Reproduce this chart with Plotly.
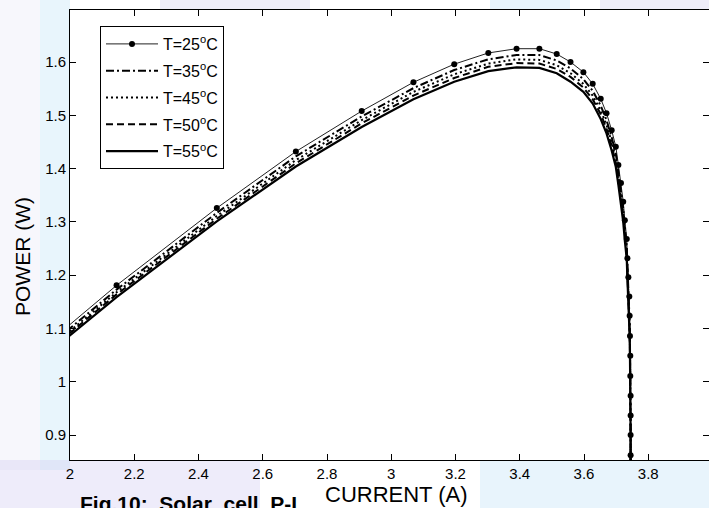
import plotly.graph_objects as go

# ---- data ----
current = [1.760, 2.145, 2.457, 2.703, 2.908, 3.069, 3.196, 3.302, 3.390, 3.461,
           3.515, 3.558, 3.598, 3.627, 3.652, 3.670, 3.686, 3.699, 3.707, 3.715,
           3.722, 3.727, 3.733, 3.735, 3.738, 3.741, 3.742, 3.743, 3.744, 3.744,
           3.745, 3.745, 3.745, 3.745, 3.745]

p25 = [0.986, 1.181, 1.326, 1.432, 1.508, 1.562, 1.596, 1.617, 1.625, 1.625,
       1.615, 1.600, 1.581, 1.559, 1.531, 1.504, 1.472, 1.441, 1.407, 1.373,
       1.338, 1.303, 1.268, 1.232, 1.196, 1.160, 1.124, 1.086, 1.049, 1.011,
       0.974, 0.937, 0.900, 0.862, 0.824]
p35 = [0.980, 1.173, 1.317, 1.423, 1.498, 1.551, 1.585, 1.605, 1.613, 1.613,
       1.603, 1.588, 1.568, 1.546, 1.518, 1.491, 1.459, 1.428, 1.394, 1.360,
       1.325, 1.290, 1.255, 1.219, 1.183, 1.147, 1.111, 1.073, 1.036, 0.998,
       0.961, 0.924, 0.887, 0.849, 0.811]
p45 = [0.975, 1.168, 1.311, 1.416, 1.491, 1.544, 1.577, 1.597, 1.605, 1.604,
       1.594, 1.579, 1.559, 1.537, 1.509, 1.482, 1.450, 1.419, 1.385, 1.351,
       1.316, 1.281, 1.246, 1.210, 1.174, 1.138, 1.102, 1.064, 1.027, 0.989,
       0.952, 0.915, 0.878, 0.840, 0.802]
p50 = [0.972, 1.164, 1.306, 1.410, 1.485, 1.537, 1.570, 1.591, 1.598, 1.597,
       1.587, 1.572, 1.552, 1.530, 1.502, 1.475, 1.443, 1.411, 1.377, 1.343,
       1.308, 1.273, 1.238, 1.202, 1.166, 1.130, 1.094, 1.056, 1.019, 0.981,
       0.944, 0.907, 0.870, 0.832, 0.794]
p55 = [0.968, 1.159, 1.301, 1.404, 1.478, 1.530, 1.563, 1.583, 1.590, 1.589,
       1.579, 1.563, 1.544, 1.522, 1.493, 1.466, 1.434, 1.403, 1.369, 1.335,
       1.300, 1.265, 1.230, 1.194, 1.158, 1.122, 1.086, 1.048, 1.010, 0.972,
       0.935, 0.898, 0.861, 0.823, 0.785]

series_names = ["T=25<sup>o</sup>C", "T=35<sup>o</sup>C", "T=45<sup>o</sup>C",
                "T=50<sup>o</sup>C", "T=55<sup>o</sup>C"]
x_ticks = [2, 2.2, 2.4, 2.6, 2.8, 3, 3.2, 3.4, 3.6, 3.8]
x_tick_text = ["2", "2.2", "2.4", "2.6", "2.8", "3", "3.2", "3.4", "3.6", "3.8"]
y_ticks = [0.9, 1.0, 1.1, 1.2, 1.3, 1.4, 1.5, 1.6]
y_tick_text = ["0.9", "1", "1.1", "1.2", "1.3", "1.4", "1.5", "1.6"]

FONT = "Liberation Sans, Arial, sans-serif"

fig = go.Figure()
fig.add_trace(go.Scatter(x=current, y=p25, mode="lines+markers", name=series_names[0],
                         legendgroup="g0",
                         line=dict(color="#222222", width=1),
                         marker=dict(color="black", size=6, symbol="circle")))
styles = [("8px,3px,2px,3px", 2), ("2px,3px", 2), ("7px,4px", 2), ("solid", 2.2)]
for i, (name, pv, (dash, w)) in enumerate(zip(series_names[1:], [p35, p45, p50, p55], styles)):
    fig.add_trace(go.Scatter(x=current, y=pv, mode="lines", name=name,
                             legendgroup="g%d" % (i + 1),
                             line=dict(color="black", width=w, dash=dash)))

W, H = 709, 508
L, R, T, B = 70, 0, 10, 48
pw, ph = W - L - R, H - T - B

def px_x(p):
    return (p - L) / pw

def px_y(p):
    return (H - B - p) / ph

# faint watermark-like background tints outside the plot area
tints = [
    (40, 0, 70, 470, "rgba(190,225,247,0.35)"),
    (0, 0, 40, 470, "rgba(228,228,246,0.30)"),
    (0, 460, 260, 508, "rgba(212,208,242,0.40)"),
    (480, 460, 709, 508, "rgba(198,228,248,0.40)"),
    (160, 0, 310, 10, "rgba(215,210,240,0.40)"),
    (490, 0, 570, 10, "rgba(195,228,248,0.40)"),
    (600, 0, 709, 10, "rgba(215,210,240,0.40)"),
]
for x0, y0, x1, y1, c in tints:
    fig.add_shape(type="rect", xref="paper", yref="paper",
                  x0=px_x(x0), x1=px_x(x1), y0=px_y(y1), y1=px_y(y0),
                  fillcolor=c, line=dict(width=0), layer="below")

axis_common = dict(showline=True, linecolor="black", linewidth=1, mirror="ticks",
                   ticks="inside", ticklen=6, tickcolor="black", tickwidth=1,
                   showgrid=False, zeroline=False,
                   tickfont=dict(family=FONT, size=15, color="black"))

fig.update_layout(
    width=W, height=H,
    margin=dict(l=L, r=R, t=T, b=B, pad=0),
    paper_bgcolor="white", plot_bgcolor="white",
    font=dict(family=FONT, color="black"),
    xaxis=dict(range=[2, 3.989], tickvals=x_ticks, ticktext=x_tick_text, **axis_common),
    yaxis=dict(range=[0.8533, 1.6976], tickvals=y_ticks, ticktext=y_tick_text, **axis_common),
    legend=dict(x=px_x(100), y=px_y(26), xanchor="left", yanchor="top",
                bgcolor="white", bordercolor="black", borderwidth=1,
                font=dict(family=FONT, size=16, color="black"),
                itemwidth=52, tracegroupgap=3),
    showlegend=True,
)

fig.add_annotation(text="<b>Fig.10:  Solar  cell  P-I</b>", xref="paper", yref="paper",
                   x=px_x(78), y=px_y(503), xanchor="left", yanchor="middle",
                   showarrow=False, font=dict(family=FONT, size=21, color="black"))
fig.add_annotation(text="CURRENT (A)", xref="paper", yref="paper",
                   x=px_x(397), y=px_y(494), xanchor="center", yanchor="middle",
                   showarrow=False,
                   font=dict(family=FONT, size=22, color="black"))
fig.add_annotation(text="POWER (W)", xref="paper", yref="paper",
                   x=px_x(23), y=px_y(256), xanchor="center", yanchor="middle",
                   textangle=-90, showarrow=False,
                   font=dict(family=FONT, size=21, color="black"))

fig.write_html("out.html", config={"displayModeBar": False})

# remove the default page margin so the figure sits at the window's corner
with open("out.html", "r", encoding="utf-8") as f:
    html = f.read()
html = html.replace("<head>", "<head><style>html,body{margin:0;padding:0;overflow:hidden;}</style>", 1)
with open("out.html", "w", encoding="utf-8") as f:
    f.write(html)
